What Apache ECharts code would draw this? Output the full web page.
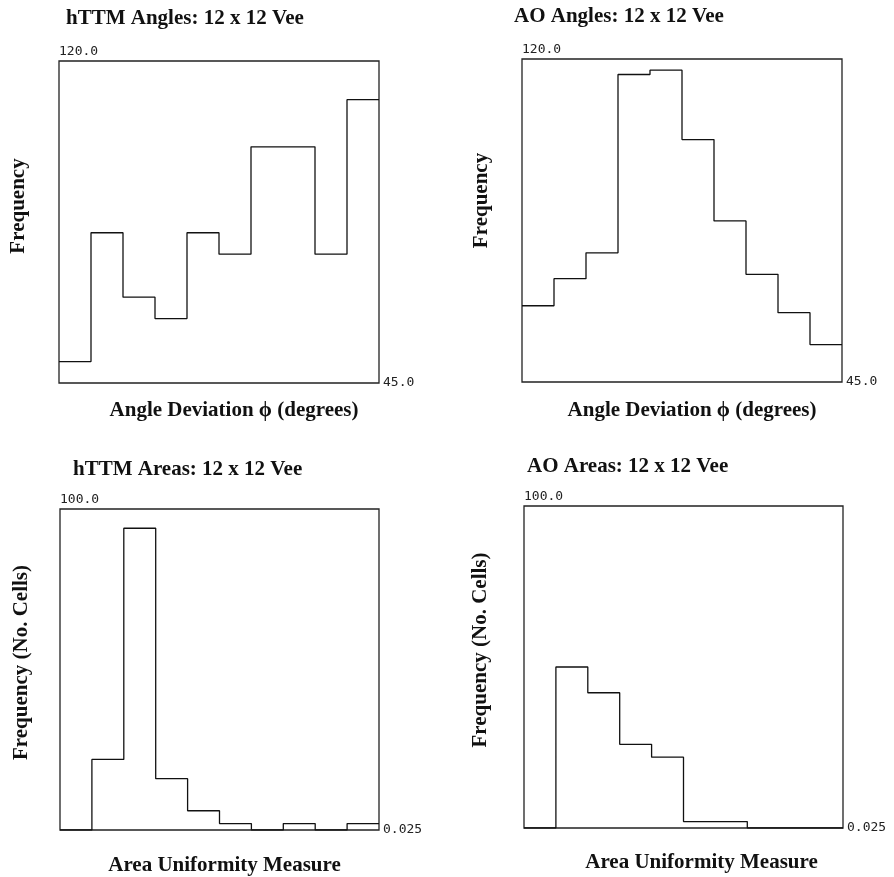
<!DOCTYPE html>
<html>
<head>
<meta charset="utf-8">
<script src="https://cdn.jsdelivr.net/npm/echarts@6/dist/echarts.min.js"></script>
<style>
html,body{margin:0;padding:0;background:#fff;}
#chart{width:894px;height:877px;}
</style>
</head>
<body>
<div id="chart"></div>
<script>
// ---- data ----
const titles = ['hTTM Angles: 12 x 12 Vee', 'AO Angles: 12 x 12 Vee', 'hTTM Areas: 12 x 12 Vee', 'AO Areas: 12 x 12 Vee'];
const xNames = ['Angle Deviation \u03D5 (degrees)', 'Angle Deviation \u03D5 (degrees)', 'Area Uniformity Measure', 'Area Uniformity Measure'];
const yNames = ['Frequency', 'Frequency', 'Frequency (No. Cells)', 'Frequency (No. Cells)'];
const yMinVals = [45, 45, 0, 0];
const yMaxVals = [120, 120, 100, 100];
const yMaxLabels = ['120.0', '120.0', '100.0', '100.0'];
const yMinLabels = ['45.0', '45.0', '0.025', '0.025'];
const binCount = 10;
const httmAngles = [50, 80, 65, 60, 80, 75, 100, 100, 75, 111];
const aoAngles = [62.7, 69, 75, 116.4, 117.4, 101.3, 82.4, 70, 61.1, 53.7];
const httmAreas = [0, 22, 94, 16, 6, 2, 0, 2, 0, 2];
const aoAreas = [0, 50, 42, 26, 22, 2, 2, 0, 0, 0];
const seriesVals = [httmAngles, aoAngles, httmAreas, aoAreas];

// ---- layout ----
const grids = [
  {left: 59, top: 61, width: 320, height: 322},
  {left: 522, top: 59, width: 320, height: 323},
  {left: 60, top: 509, width: 319, height: 322},
  {left: 524, top: 506, width: 319, height: 322}
];
const titlePos = [[66, 8], [514, 6], [73, 459], [527, 456]];
const xGap = [17, 18, 25, 24];
const xShift = [30, 20, 10, 36];
const yGap = [30, 30, 28, 33];
const yShift = [32, 40, 14, 34];

const serif = 'Liberation Serif';
const mono = 'DejaVu Sans Mono';

const option = {
  backgroundColor: '#fff',
  animation: false,
  title: titles.map((t, i) => ({
    text: t, left: titlePos[i][0], top: titlePos[i][1], padding: 0,
    textStyle: {fontFamily: serif, fontWeight: 'bold', fontSize: 21, color: '#111'}
  })),
  grid: grids.map(g => Object.assign({show: true, borderColor: '#222', borderWidth: 1.3, backgroundColor: '#fff'}, g)),
  xAxis: grids.map((g, i) => ({
    type: 'value', gridIndex: i, min: 0, max: binCount,
    axisLine: {show: false}, axisTick: {show: false}, axisLabel: {show: false}, splitLine: {show: false},
    name: xNames[i], nameLocation: 'middle', nameGap: xGap[i],
    nameTextStyle: {fontFamily: serif, fontWeight: 'bold', fontSize: 21, color: '#111', padding: [0, 0, 0, xShift[i]]}
  })),
  yAxis: [].concat(
    grids.map((g, i) => ({
      type: 'value', gridIndex: i, min: yMinVals[i], max: yMaxVals[i], interval: yMaxVals[i] - yMinVals[i],
      axisLine: {show: false}, axisTick: {show: false}, splitLine: {show: false},
      axisLabel: {
        show: true, margin: 0, align: 'left', verticalAlign: 'bottom', padding: [0, 0, 3, 0],
        fontFamily: mono, fontSize: 13, color: '#222',
        formatter: v => (v === yMaxVals[i] ? yMaxLabels[i] : '')
      },
      name: yNames[i], nameLocation: 'middle', nameGap: yGap[i], nameRotate: 90,
      nameTextStyle: {fontFamily: serif, fontWeight: 'bold', fontSize: 21, color: '#111', padding: [0, 0, 0, yShift[i]]}
    })),
    grids.map((g, i) => ({
      type: 'value', gridIndex: i, position: 'right', min: yMinVals[i], max: yMaxVals[i], interval: yMaxVals[i] - yMinVals[i],
      axisLine: {show: false}, axisTick: {show: false}, splitLine: {show: false},
      axisLabel: {
        show: true, margin: 4, align: 'left', verticalAlign: 'middle', padding: [0, 0, 6, 0],
        fontFamily: mono, fontSize: 13, color: '#222',
        formatter: v => (v === yMinVals[i] ? yMinLabels[i] : '')
      }
    }))
  ),
  series: seriesVals.map((vals, i) => ({
    type: 'line', xAxisIndex: i, yAxisIndex: i, step: 'end', symbol: 'none',
    lineStyle: {color: '#111', width: 1.3},
    data: vals.map((v, k) => [k, v]).concat([[binCount, vals[vals.length - 1]]])
  }))
};

const chart = echarts.init(document.getElementById('chart'), null, {renderer: 'canvas'});
chart.setOption(option);
</script>
</body>
</html>
